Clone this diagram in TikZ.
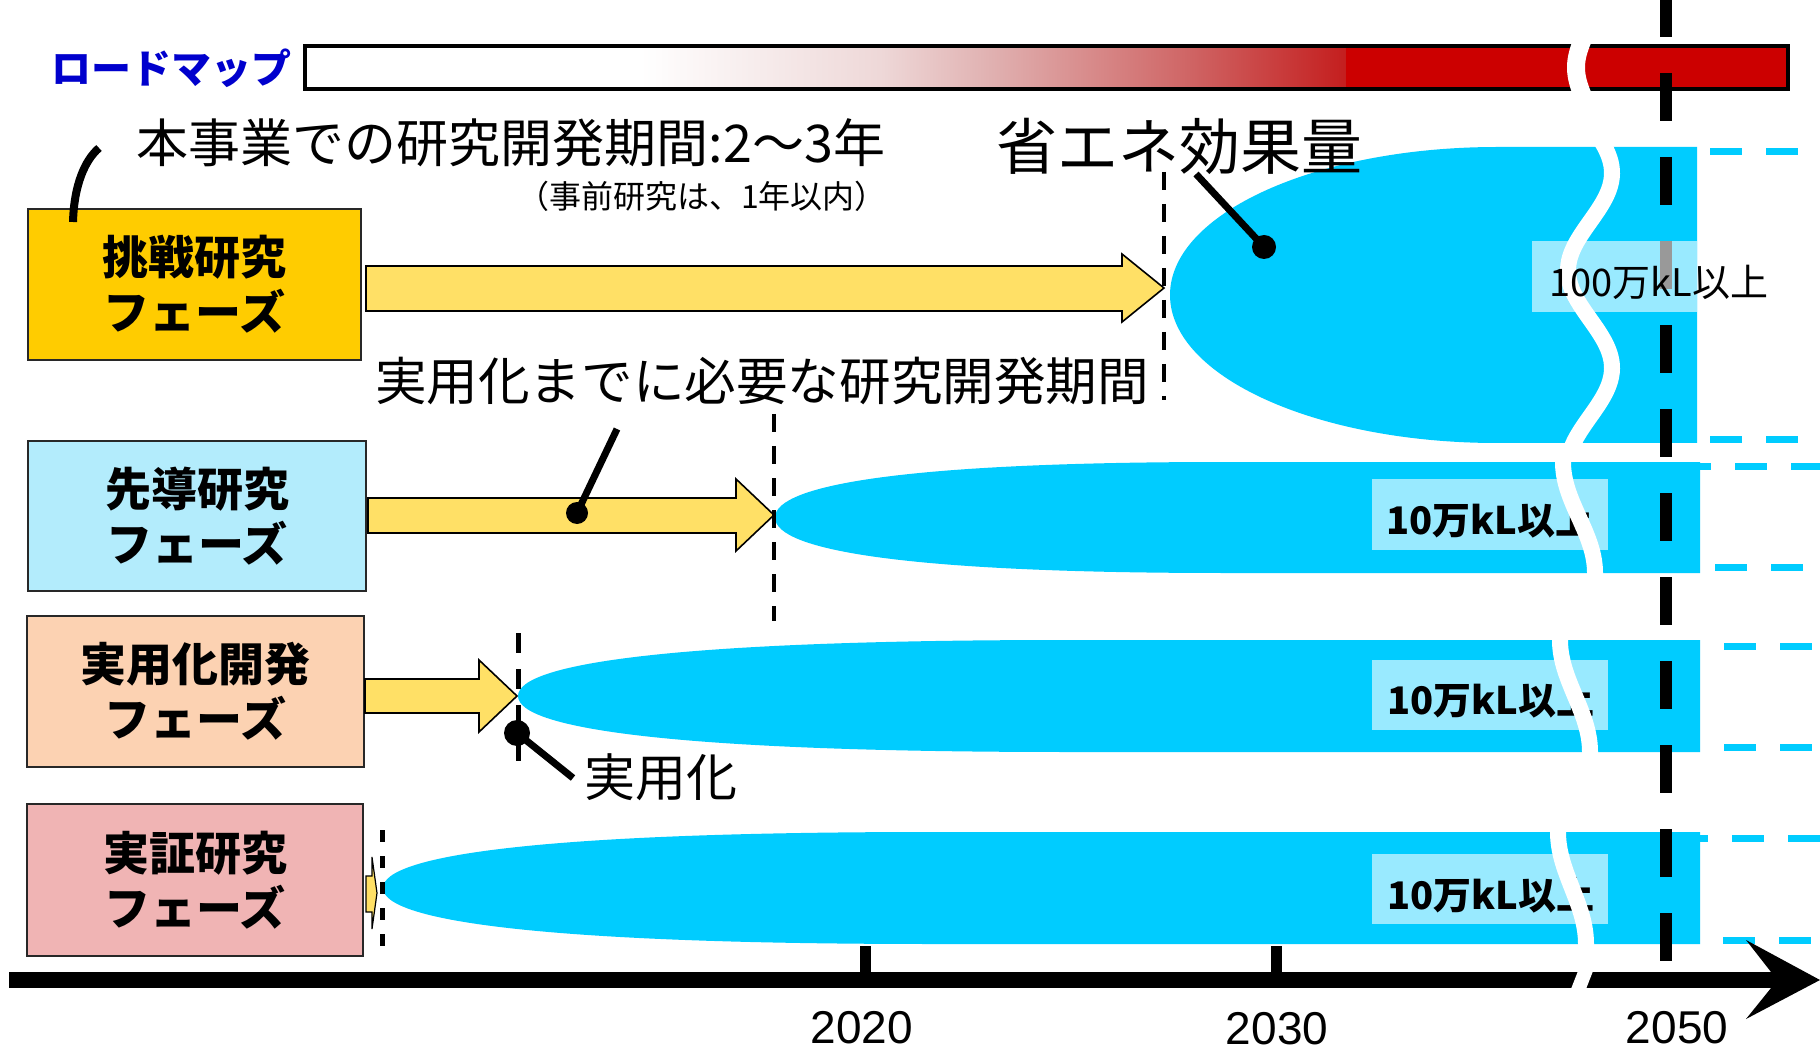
\documentclass[tikz,border=0pt]{standalone}
\usepackage{fontspec}
\setmainfont{Noto Sans CJK JP}
\newfontfamily\arialf{Liberation Sans}
\definecolor{cyanfill}{RGB}{0,204,255}
\definecolor{arrowyellow}{RGB}{255,224,102}
\definecolor{boxgold}{RGB}{255,204,0}
\definecolor{boxcyan}{RGB}{179,236,252}
\definecolor{boxpeach}{RGB}{252,210,178}
\definecolor{boxpink}{RGB}{240,180,180}
\definecolor{mapred}{RGB}{204,0,0}
\definecolor{mapblue}{RGB}{0,0,205}
\definecolor{grA}{RGB}{238,216,216}
\definecolor{grB}{RGB}{224,176,176}
\definecolor{grC}{RGB}{207,100,100}
\definecolor{grD}{RGB}{196,30,30}
\definecolor{boxedge}{RGB}{40,40,40}
\pgfdeclarehorizontalshading{roadmapshade}{100bp}{color(0bp)=(white); color(25bp)=(white); color(42bp)=(grA); color(50bp)=(grB); color(64bp)=(grC); color(75bp)=(grD); color(100bp)=(grD)}
\tikzset{
  phasebox/.style={draw=boxedge, line width=1pt, rectangle, inner sep=0pt, align=center,
    font=\fontsize{23pt}{27.5pt}\selectfont\bfseries},
  yarrow/.style={draw=black, line width=0.8pt, fill=arrowyellow, line join=miter},
  vdash/.style={draw=black, line width=2pt, dash pattern=on 9pt off 7pt},
  callout/.style={draw=black, line width=3.5pt},
  dotnode/.style={circle, fill=black, inner sep=0pt},
  wavecut/.style={draw=white, line width=8pt},
  cyandash/.style={draw=cyanfill, line width=3.5pt, dash pattern=on 16pt off 12pt},
  lbl/.style={inner sep=0pt, font=\fontsize{19pt}{22pt}\selectfont},
  yearlbl/.style={inner sep=0pt, font=\arialf\fontsize{23pt}{27pt}\selectfont},
  plaintext/.style={inner sep=0pt}
}
\begin{document}
\begin{tikzpicture}[x=0.5pt,y=-0.5pt]
\useasboundingbox (0,0) rectangle (1820,1053);
\fill[white] (0,0) rectangle (1820,1053);

% roadmap bar
\node[plaintext, text=mapblue, font=\fontsize{20pt}{24pt}\selectfont\bfseries] (rm) at (171,68) {ロードマップ};
\fill[white] (305,46) rectangle (640,89);
\shade[shading=roadmapshade] (640,46) rectangle (1346,89);
\fill[mapred] (1346,46) rectangle (1788,89);
\draw[line width=2pt] (305,46) rectangle (1788,89);
\draw[wavecut, line width=9pt] plot[domain=34:101, samples=30, variable=\t] ({1585-9*sin(2.6866*(\t-34))}, \t);

% phase boxes
\node[phasebox, fill=boxgold, minimum width=166.5pt, minimum height=75.5pt] (b1) at (194.5,284.5) {挑戦研究\\フェーズ};
\node[phasebox, fill=boxcyan, minimum width=169pt, minimum height=75pt] (b2) at (197,516) {先導研究\\フェーズ};
\node[phasebox, fill=boxpeach, minimum width=168.5pt, minimum height=75.5pt] (b3) at (195.5,691.5) {実用化開発\\フェーズ};
\node[phasebox, fill=boxpink, minimum width=168pt, minimum height=76pt] (b4) at (195,880) {実証研究\\フェーズ};

% yellow arrows
\draw[yarrow] (366,266) -- (1122,266) -- (1122,254) -- (1164,288) -- (1122,322) -- (1122,311) -- (366,311) -- cycle;
\draw[yarrow] (368,498) -- (736,498) -- (736,479) -- (774,515) -- (736,551) -- (736,533) -- (368,533) -- cycle;
\draw[yarrow] (365,679) -- (479,679) -- (479,660) -- (517,696) -- (479,732) -- (479,713) -- (365,713) -- cycle;
\draw[yarrow, line width=0.6pt] (366,876) -- (372,876) -- (372,857) -- (377,893) -- (372,929) -- (372,912) -- (366,912) -- cycle;

% blue effect shapes
\fill[cyanfill] (1170,295) .. controls (1170,213.3) and (1316.5,147) .. (1497,147) -- (1697,147) -- (1697,443) -- (1497,443) .. controls (1316.5,443) and (1170,376.7) .. cycle;
\fill[cyanfill] (775,517.5) .. controls (775,484.2) and (910,462) .. (1225,462) -- (1700,462) -- (1700,573) -- (1225,573) .. controls (910,573) and (775,550.8) .. cycle;
\fill[cyanfill] (518,696) .. controls (518,662.4) and (683,640) .. (1068,640) -- (1700,640) -- (1700,752) -- (1068,752) .. controls (683,752) and (518,729.6) .. cycle;
\fill[cyanfill] (383,888) .. controls (383,854.4) and (548,832) .. (933,832) -- (1700,832) -- (1700,944) -- (933,944) .. controls (548,944) and (383,921.6) .. cycle;

% cyan dashed continuations
\draw[cyandash] (1710,152) -- (1820,152);
\draw[cyandash] (1710,440) -- (1820,440);
\draw[cyandash] (1679,466) -- (1820,466);
\draw[cyandash] (1715,567) -- (1820,567);
\draw[cyandash] (1724,646) -- (1820,646);
\draw[cyandash] (1724,747) -- (1820,747);
\draw[cyandash] (1676,838) -- (1820,838);
\draw[cyandash] (1723,940) -- (1820,940);

% thin dashed verticals
\draw[vdash] (1164,172) -- (1164,400);
\draw[vdash] (774,414) -- (774,621);
\draw[vdash, line width=2.5pt, dash pattern=on 10pt off 8pt] (518,633) -- (518,763);
\draw[vdash, line width=2.5pt, dash pattern=on 6pt off 7pt] (382,830) -- (382,952);

% 2050 line
\draw[line width=6pt, dash pattern=on 24pt off 18pt] (1666,-11) -- (1666,961);

% value label boxes
\fill[white, fill opacity=0.6] (1532,241) rectangle (1697,312);
\fill[white, fill opacity=0.6] (1372,479) rectangle (1608,550);
\fill[white, fill opacity=0.6] (1372,660) rectangle (1608,730);
\fill[white, fill opacity=0.6] (1372,854) rectangle (1608,924);
\node[lbl, font=\fontsize{19pt}{22pt}\selectfont\bfseries] (v2) at (1490,520) {10万kL以上};
\node[lbl, font=\fontsize{19pt}{22pt}\selectfont\bfseries] (v3) at (1491,700) {10万kL以上};
\node[lbl, font=\fontsize{19pt}{22pt}\selectfont\bfseries] (v4) at (1491,895) {10万kL以上};

% wave breaks
\draw[wavecut] plot[domain=138:452, samples=80, variable=\t] ({1590+22*cos(1.8462*(\t-173))}, \t);
\draw[wavecut] plot[domain=455:580, samples=40, variable=\t] ({1579-16*cos(1.6216*(\t-462))}, \t);
\draw[wavecut] plot[domain=633:759, samples=40, variable=\t] ({1575-15*cos(1.6071*(\t-640))}, \t);
\draw[wavecut] plot[domain=825:951, samples=40, variable=\t] ({1572-14*cos(1.6071*(\t-832))}, \t);
\node[lbl] (v1) at (1659,282) {100万kL以上};

% time axis
\draw[line width=8pt] (9,980) -- (1772,980);
\fill (1746,940) -- (1820,980) -- (1746,1019) -- (1771,988) -- (1771,972) -- cycle;
\draw[line width=5.5pt] (865,946) -- (865,976);
\draw[line width=5.5pt] (1276,946) -- (1276,976);
\draw[wavecut, line width=7pt] (1589,962) .. controls (1584,975) and (1580,985) .. (1575,998);
\node[yearlbl] (y2020) at (862,1028) {2020};
\node[yearlbl] (y2030) at (1277,1029) {2030};
\node[yearlbl] (y2050) at (1677,1028) {2050};

% texts
\node[plaintext, font=\fontsize{26pt}{30pt}\selectfont] (t1) at (511,143) {本事業での研究開発期間:2〜3年};
\node[plaintext, font=\fontsize{16pt}{19pt}\selectfont] (t2) at (702,196) {（事前研究は、1年以内）};
\node[plaintext, font=\fontsize{30.5pt}{35pt}\selectfont] (t3) at (1179,146) {省エネ効果量};
\node[plaintext, font=\fontsize{25.8pt}{30pt}\selectfont] (t4) at (762,381) {実用化までに必要な研究開発期間};
\node[plaintext, font=\fontsize{25.5pt}{30pt}\selectfont] (t5) at (661,777) {実用化};

% callouts
\coordinate (tl1) at (73,222);
\coordinate (tl2) at (99,148);
\draw[callout, line width=4pt] (tl1) .. controls (74,185) and (85,160) .. (tl2);
\node[dotnode, minimum size=12pt] (d1) at (1264,247) {};
\coordinate (c1) at (1196,174);
\draw[callout] (d1.center) -- (c1);
\node[dotnode, minimum size=11pt] (d2) at (577,513) {};
\coordinate (c2) at (617,429);
\draw[callout] (d2.center) -- (c2);
\node[dotnode, minimum size=13pt] (d3) at (517,733) {};
\coordinate (c3) at (573,778);
\draw[callout] (d3.center) -- (c3);
\end{tikzpicture}
\end{document}
